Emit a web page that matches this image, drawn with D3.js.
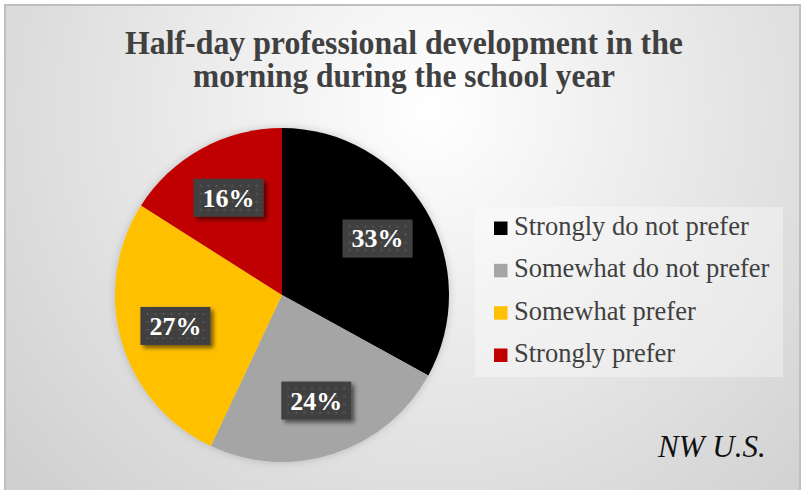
<!DOCTYPE html>
<html>
<head>
<meta charset="utf-8">
<script src="https://cdn.jsdelivr.net/npm/d3@7"></script>
<style>
  html, body { margin: 0; padding: 0; background: #ffffff; }
  svg { display: block; }
</style>
</head>
<body>
<svg id="chart" width="803" height="490"></svg>
<script>
// Survey responses (percent of respondents)
const categories = ["Strongly do not prefer", "Somewhat do not prefer", "Somewhat prefer", "Strongly prefer"];
const values = [33, 24, 27, 16];
const colors = ["#000000", "#a5a5a5", "#ffc000", "#c00000"];
const titleLines = ["Half-day professional development in the", "morning during the school year"];
const titleWidths = [558, 422];
const regionNote = "NW U.S.";

const W = 803, H = 490;
const serif = "'Times New Roman', 'Liberation Serif', serif";
const svg = d3.select("#chart");
const defs = svg.append("defs");

// Background radial gradient
const bg = defs.append("radialGradient")
  .attr("id", "bgGrad")
  .attr("gradientUnits", "userSpaceOnUse")
  .attr("cx", 430).attr("cy", 110).attr("r", 560);
bg.append("stop").attr("offset", "0%").attr("stop-color", "#ffffff");
bg.append("stop").attr("offset", "100%").attr("stop-color", "#cfcfcf");

// Dotted texture for value labels
const pat = defs.append("pattern")
  .attr("id", "dots")
  .attr("patternUnits", "userSpaceOnUse")
  .attr("width", 8).attr("height", 8);
pat.append("rect").attr("width", 8).attr("height", 8).attr("fill", "#404040");
pat.append("rect").attr("x", 3).attr("y", 3).attr("width", 2).attr("height", 2).attr("fill", "#575757");

// Label shadow
const sh = defs.append("filter").attr("id", "labelShadow")
  .attr("x", "-20%").attr("y", "-20%").attr("width", "150%").attr("height", "160%");
sh.append("feDropShadow").attr("dx", 3).attr("dy", 3).attr("stdDeviation", 2.2)
  .attr("flood-color", "#000").attr("flood-opacity", 0.55);

// Soft pie shadow
const ps = defs.append("filter").attr("id", "pieShadow")
  .attr("x", "-20%").attr("y", "-20%").attr("width", "140%").attr("height", "140%");
ps.append("feDropShadow").attr("dx", 0).attr("dy", 0).attr("stdDeviation", 4)
  .attr("flood-color", "#000").attr("flood-opacity", 0.18);

// Chart area with border
svg.append("rect")
  .attr("x", 5).attr("y", 5).attr("width", 795).attr("height", 490)
  .attr("fill", "url(#bgGrad)")
  .attr("stroke", "#bfbfbf").attr("stroke-width", 2);

// Title (condensed bold serif)
svg.append("g")
  .selectAll("text")
  .data(titleLines)
  .join("text")
  .attr("x", 404)
  .attr("y", (d, i) => 54 + i * 33)
  .attr("text-anchor", "middle")
  .attr("font-family", serif)
  .attr("font-weight", "bold")
  .attr("font-size", 33)
  .attr("textLength", (d, i) => titleWidths[i])
  .attr("lengthAdjust", "spacingAndGlyphs")
  .attr("fill", "#404040")
  .text(d => d);

// Pie
const cx = 282, cy = 295, R = 167;
const pie = d3.pie().sort(null).value(d => d)(values);
const arc = d3.arc().innerRadius(0).outerRadius(R);
const labelArc = d3.arc().innerRadius(111).outerRadius(111);

const gPie = svg.append("g").attr("transform", `translate(${cx},${cy})`);
gPie.append("g").attr("filter", "url(#pieShadow)")
  .selectAll("path")
  .data(pie)
  .join("path")
  .attr("d", arc)
  .attr("fill", (d, i) => colors[i]);

// Value labels
const lab = gPie.append("g")
  .selectAll("g")
  .data(pie)
  .join("g")
  .attr("transform", d => {
    const c = labelArc.centroid(d);
    return `translate(${c[0]},${c[1]})`;
  });
lab.append("rect")
  .attr("x", -35).attr("y", -19).attr("width", 70).attr("height", 38)
  .attr("fill", "url(#dots)")
  .attr("filter", "url(#labelShadow)");
lab.append("text")
  .attr("text-anchor", "middle")
  .attr("y", 9)
  .attr("font-family", serif)
  .attr("font-weight", "bold")
  .attr("font-size", 26)
  .attr("fill", "#ffffff")
  .text(d => d.data + "%");

// Legend
const legend = svg.append("g");
legend.append("rect")
  .attr("x", 475).attr("y", 207).attr("width", 308).attr("height", 170)
  .attr("fill", "#ffffff").attr("fill-opacity", 0.35);
const rowY = d3.scalePoint().domain(categories).range([235, 362]);
const item = legend.selectAll("g")
  .data(categories)
  .join("g")
  .attr("transform", d => `translate(0,${rowY(d)})`);
item.append("rect")
  .attr("x", 494).attr("y", -13.5).attr("width", 13.5).attr("height", 13.5)
  .attr("fill", (d, i) => colors[i]);
item.append("text")
  .attr("x", 514).attr("y", 0)
  .attr("font-family", serif)
  .attr("font-size", 26.5)
  .attr("fill", "#404040")
  .text(d => d);

// Region note
svg.append("text")
  .attr("x", 658).attr("y", 457)
  .attr("font-family", serif)
  .attr("font-style", "italic")
  .attr("font-size", 31)
  .attr("fill", "#111111")
  .text(regionNote);
</script>
</body>
</html>
